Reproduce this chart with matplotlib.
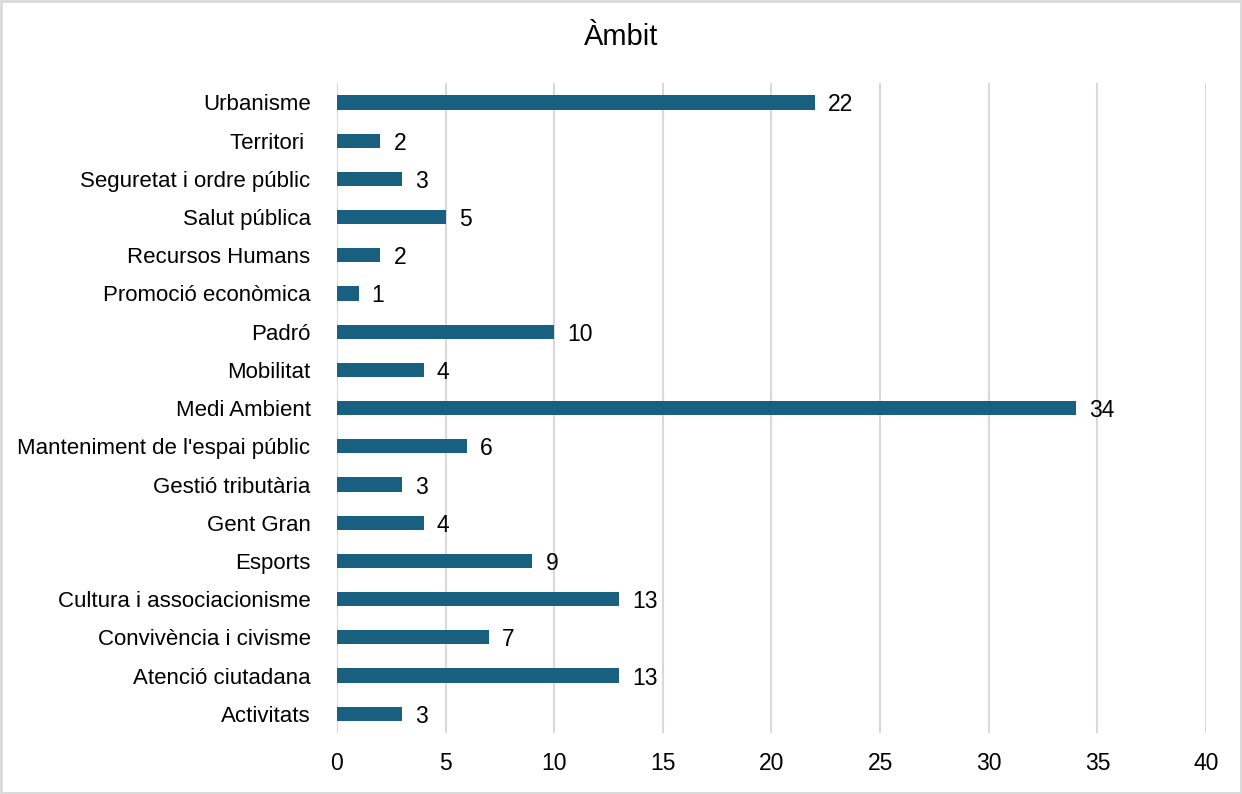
import numpy as np
import matplotlib.pyplot as plt

# Data
categories = ['Activitats', 'Atenció ciutadana', 'Convivència i civisme',
              'Cultura i associacionisme', 'Esports', 'Gent Gran',
              'Gestió tributària', "Manteniment de l'espai públic",
              'Medi Ambient', 'Mobilitat', 'Padró', 'Promoció econòmica',
              'Recursos Humans', 'Salut pública', 'Seguretat i ordre públic',
              'Territori ', 'Urbanisme']
values = [3, 13, 7, 13, 9, 4, 3, 6, 34, 4, 10, 1, 2, 5, 3, 2, 22]
xticks = [0, 5, 10, 15, 20, 25, 30, 35, 40]

plt.rcParams['font.family'] = ['Liberation Sans', 'DejaVu Sans']

fig = plt.figure(figsize=(12.42, 7.94), dpi=100)
ax = fig.add_axes([0.2713, 0.077, 0.6997, 0.818])

y = np.arange(len(categories))
ax.barh(y, values, height=0.37, color='#185F80', zorder=3)

for yi, v in zip(y, values):
    ax.text(v + 0.6, yi, str(v), va='center_baseline', ha='left', fontsize=16.5, color='black')

ax.set_xlim(0, 40)
ax.set_ylim(-0.5, len(categories) - 0.5)
ax.set_xticks(xticks)
ax.set_yticks(y)
ax.set_yticklabels(categories)
ax.tick_params(axis='both', length=0, labelsize=16, colors='black')
ax.tick_params(axis='x', labelsize=16.5, pad=14)
ax.tick_params(axis='y', pad=19)
ax.xaxis.grid(True, color='#D9D9D9', linewidth=1.5, zorder=0)
for s in ax.spines.values():
    s.set_visible(False)

fig.text(0.5, 0.953, 'Àmbit', ha='center', va='center', fontsize=21)

# border round the figure
border = plt.Rectangle((0.001, 0.001), 0.998, 0.998, transform=fig.transFigure,
                       fill=False, edgecolor='#D9D9D9', linewidth=2)
fig.patches.append(border)

fig.savefig('out.png', dpi=100)
